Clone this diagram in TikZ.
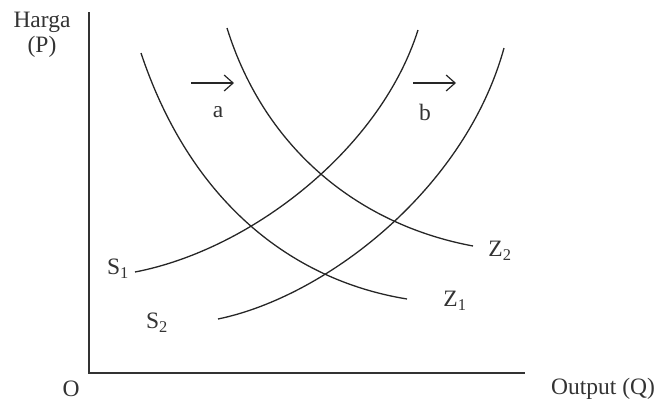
\documentclass[tikz,border=0pt]{standalone}
\usepackage{fontspec}
\setmainfont{Liberation Serif}
\usetikzlibrary{arrows.meta}
\begin{document}
\begin{tikzpicture}[x=1pt,y=-1pt,
  curve/.style={line width=1.3pt,color=black!85},
  axis/.style={line width=1.6pt,color=black!80},
  shiftarrow/.style={line width=1.2pt,color=black!85,-{Straight Barb[length=9pt,width=16pt,line width=1.2pt]}},
  lbl/.style={font=\fontsize{23.5}{25}\selectfont,text=black!80,inner sep=0pt}]
\useasboundingbox (0,0) rectangle (662,402);
% axes
\coordinate (top) at (89,12);
\coordinate (O) at (89,373);
\coordinate (right) at (525,373);
\draw[axis] (top) -- (O) -- (right);
% labels on axes
\node[lbl] (harga) at (42,22) {Harga};
\node[lbl] (p) at (42,47) {(P)};
\node[lbl] (olabel) at (71,389) {O};
\node[lbl] (output) at (603,389) {Output (Q)};
% demand curves
\draw[curve] (141,53) .. controls (190,200) and (290,280) .. (407,299);
\draw[curve] (227,28) .. controls (265,150) and (360,225) .. (473,246);
% supply curves
\draw[curve] (135,272) .. controls (250,250) and (380,150) .. (418,30);
\draw[curve] (218,319) .. controls (325,297) and (465,190) .. (504,48);
% curve labels
\node[lbl] (s1) at (118,269) {S\textsubscript{1}};
\node[lbl] (s2) at (157,323) {S\textsubscript{2}};
\node[lbl] (z1) at (455,301) {Z\textsubscript{1}};
\node[lbl] (z2) at (500,251) {Z\textsubscript{2}};
% shift arrows
\coordinate (a1) at (191,83);
\coordinate (a2) at (234,83);
\draw[shiftarrow] (a1) -- (a2);
\node[lbl] (alabel) at (218,112) {a};
\coordinate (b1) at (413,83);
\coordinate (b2) at (456,83);
\draw[shiftarrow] (b1) -- (b2);
\node[lbl] (blabel) at (425,112) {b};
\end{tikzpicture}
\end{document}
